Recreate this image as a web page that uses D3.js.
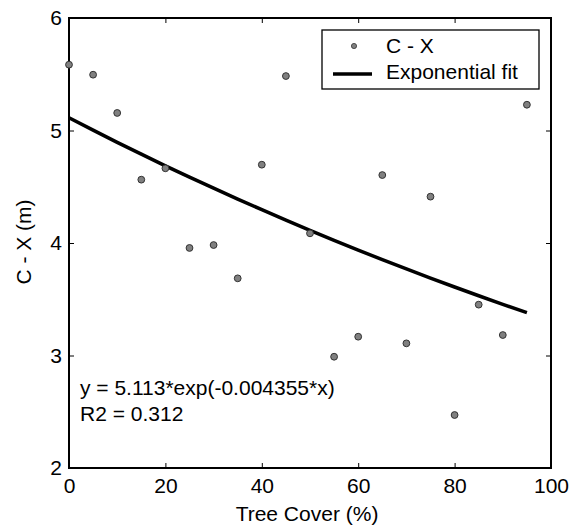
<!DOCTYPE html>
<html>
<head>
<meta charset="utf-8">
<script src="https://cdn.jsdelivr.net/npm/d3@7"></script>
<style>
  html, body { margin: 0; padding: 0; background: #fff; }
  svg { display: block; }
  text { font-family: "Liberation Sans", Arial, Helvetica, sans-serif; fill: #000; }
</style>
</head>
<body>
<svg id="chart" width="574" height="528"></svg>
<script>
// ---- data ----
const treeCover = [0, 5, 10, 15, 20, 25, 30, 35, 40, 45, 50, 55, 60, 65, 70, 75, 80, 85, 90, 95];
const cx = [5.585, 5.496, 5.156, 4.563, 4.664, 3.956, 3.982, 3.686, 4.696, 5.484, 4.086, 2.989, 3.167, 4.604, 3.108, 4.412, 2.471, 3.452, 3.182, 5.229];
const fitX = [0, 5, 10, 15, 20, 25, 30, 35, 40, 45, 50, 55, 60, 65, 70, 75, 80, 85, 90, 95];
const fitY = [5.113, 5.003, 4.895, 4.790, 4.686, 4.586, 4.487, 4.390, 4.296, 4.203, 4.113, 4.024, 3.937, 3.852, 3.770, 3.688, 3.609, 3.531, 3.455, 3.381];
const xTicks = [0, 20, 40, 60, 80, 100];
const yTicks = [2, 3, 4, 5, 6];
const xLabel = "Tree Cover (%)";
const yLabel = "C - X (m)";
const legendLabels = ["C - X", "Exponential fit"];
const equationLines = ["y = 5.113*exp(-0.004355*x)", "R2 = 0.312"];

// ---- layout ----
const svg = d3.select("#chart");
const L = 69, R = 551, T = 18, B = 468;
const x = d3.scaleLinear().domain([0, 100]).range([L, R]);
const y = d3.scaleLinear().domain([2, 6]).range([B, T]);
const FS = 21;
const fmt = d3.format("d");

// axes
const gB = svg.append("g").attr("transform", `translate(0,${B})`)
  .call(d3.axisBottom(x).tickValues(xTicks).tickFormat(fmt).tickSizeInner(-5).tickSizeOuter(0).tickPadding(10));
const gL = svg.append("g").attr("transform", `translate(${L},0)`)
  .call(d3.axisLeft(y).tickValues(yTicks).tickFormat(fmt).tickSizeInner(-5).tickSizeOuter(0).tickPadding(7));
const gT = svg.append("g").attr("transform", `translate(0,${T})`)
  .call(d3.axisTop(x).tickValues(xTicks).tickSizeInner(-5).tickSizeOuter(0).tickFormat(""));
const gR = svg.append("g").attr("transform", `translate(${R},0)`)
  .call(d3.axisRight(y).tickValues(yTicks).tickSizeInner(-5).tickSizeOuter(0).tickFormat(""));

[gB, gL, gT, gR].forEach(g => {
  g.select(".domain").remove();
  g.selectAll(".tick line").attr("stroke", "#000").attr("stroke-width", 1);
  g.selectAll("text").attr("font-size", FS).attr("font-family", "Liberation Sans, Arial, sans-serif").attr("fill", "#000");
});

// box
svg.append("rect").attr("x", L).attr("y", T).attr("width", R - L).attr("height", B - T)
  .attr("fill", "none").attr("stroke", "#000").attr("stroke-width", 2);

// fit line
const line = d3.line().x((d, i) => x(fitX[i])).y(d => y(d));
svg.append("path").datum(fitY).attr("d", line)
  .attr("fill", "none").attr("stroke", "#000").attr("stroke-width", 3.5)
  .attr("stroke-linejoin", "round");

// points
svg.append("g").selectAll("circle").data(cx).join("circle")
  .attr("cx", (d, i) => x(treeCover[i])).attr("cy", d => y(d)).attr("r", 3.4)
  .attr("fill", "#808080").attr("stroke", "#333").attr("stroke-width", 1);

// axis labels
svg.append("text").attr("x", (L + R) / 2 - 3).attr("y", 521).attr("text-anchor", "middle")
  .attr("font-size", FS).text(xLabel);
svg.append("text").attr("transform", `translate(31,242) rotate(-90)`).attr("text-anchor", "middle")
  .attr("font-size", FS).text(yLabel);

// equation text
svg.append("g").selectAll("text").data(equationLines).join("text")
  .attr("x", 80).attr("y", (d, i) => 395 + i * 25.7).attr("font-size", FS).text(d => d);

// legend
const lg = svg.append("g");
lg.append("rect").attr("x", 322).attr("y", 30).attr("width", 217).attr("height", 59)
  .attr("fill", "#fff").attr("stroke", "#000").attr("stroke-width", 1.3);
lg.append("circle").attr("cx", 354).attr("cy", 46).attr("r", 2.6)
  .attr("fill", "#808080").attr("stroke", "#333").attr("stroke-width", 0.8);
lg.append("line").attr("x1", 333).attr("x2", 372).attr("y1", 74).attr("y2", 74)
  .attr("stroke", "#000").attr("stroke-width", 3.5);
lg.selectAll("text.lt").data(legendLabels).join("text").attr("class", "lt")
  .attr("x", 386).attr("y", (d, i) => 53 + i * 26).attr("font-size", FS).text(d => d);
</script>
</body>
</html>
